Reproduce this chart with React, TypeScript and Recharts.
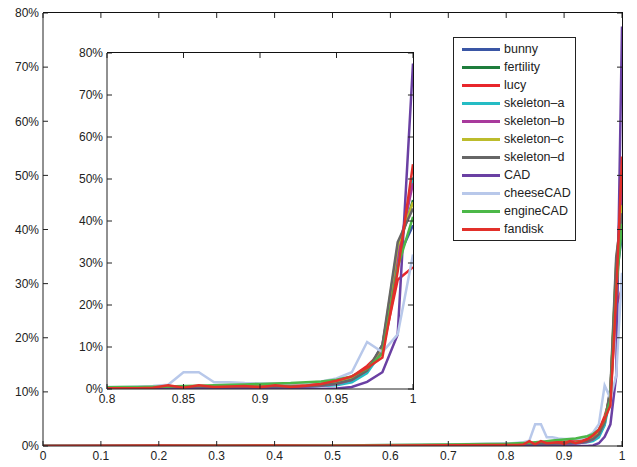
import React from 'react';
import { LineChart, Line, XAxis, YAxis, Legend, ReferenceLine } from 'recharts';

// x positions: coarse over the flat part, 0.01 steps from 0.8 on
const X = [0, 0.1, 0.2, 0.3, 0.4, 0.5, 0.6, 0.7,
  0.8, 0.81, 0.82, 0.83, 0.84, 0.85, 0.86, 0.87, 0.88, 0.89, 0.9,
  0.91, 0.92, 0.93, 0.94, 0.95, 0.96, 0.97, 0.98, 0.99, 1];

const bunny = [0, 0, 0, 0, 0, 0, 0.05, 0.1,
  0.2, 0.2, 0.2, 0.2, 0.25, 0.3, 0.3, 0.3, 0.35, 0.4, 0.4, 0.45, 0.5, 0.6, 0.8, 1.1, 2.0, 4.0, 10.5, 31, 39];
const fertility = [0, 0, 0, 0.05, 0.05, 0.1, 0.1, 0.2,
  0.3, 0.3, 0.3, 0.35, 0.4, 0.4, 0.45, 0.5, 0.55, 0.6, 0.7, 0.8, 0.9, 1.0, 1.2, 1.6, 2.6, 4.8, 9.5, 33, 45];
const lucy = [0, 0, 0.05, 0.05, 0.05, 0.1, 0.1, 0.2,
  0.3, 0.3, 0.35, 0.4, 0.4, 0.45, 0.5, 0.5, 0.6, 0.7, 0.8, 0.9, 1.0, 1.2, 1.4, 1.9, 2.9, 5.5, 9.0, 26, 29];
const skeletonA = [0, 0, 0, 0, 0, 0, 0, 0.05,
  0.1, 0.1, 0.1, 0.15, 0.2, 0.2, 0.2, 0.25, 0.3, 0.3, 0.35, 0.4, 0.5, 0.6, 0.7, 0.9, 1.6, 3.8, 9.0, 30, 50.5];
const skeletonB = [0, 0, 0, 0, 0, 0, 0, 0.05,
  0.1, 0.1, 0.15, 0.15, 0.2, 0.2, 0.25, 0.3, 0.3, 0.35, 0.4, 0.45, 0.5, 0.6, 0.8, 1.2, 2.2, 4.5, 9.5, 32, 49];
const skeletonC = [0, 0, 0, 0, 0, 0, 0.05, 0.1,
  0.2, 0.2, 0.25, 0.3, 0.3, 0.35, 0.4, 0.4, 0.45, 0.5, 0.55, 0.6, 0.7, 0.8, 1.0, 1.4, 2.4, 4.6, 10, 34, 44.5];
const skeletonD = [0, 0, 0, 0, 0, 0, 0.05, 0.1,
  0.2, 0.2, 0.2, 0.25, 0.3, 0.3, 0.35, 0.4, 0.4, 0.45, 0.5, 0.55, 0.6, 0.7, 0.9, 1.3, 2.2, 4.4, 10.5, 35, 43];
const cad = [0, 0, 0, 0, 0, 0, 0, 0,
  0, 0, 0, 0, 0, 0, 0, 0, 0, 0, 0, 0, 0, 0, 0, 0.1, 0.5, 1.7, 4.0, 13, 77.5];
const cheeseCad = [0, 0, 0, 0, 0.05, 0.1, 0.2, 0.3,
  0.5, 0.5, 0.6, 0.7, 1.0, 4.0, 4.0, 1.6, 1.6, 1.4, 1.3, 1.3, 1.3, 1.4, 1.8, 2.5, 4.0, 11.2, 8.8, 13, 32];
const engineCad = [0, 0, 0.05, 0.05, 0.1, 0.1, 0.2, 0.3,
  0.4, 0.45, 0.5, 0.55, 0.6, 0.7, 0.8, 0.9, 1.0, 1.1, 1.2, 1.3, 1.4, 1.6, 1.8, 2.2, 3.0, 4.8, 8.5, 29, 41];
const fandisk = [0, 0.05, 0.1, 0.05, 0.1, 0.05, 0.1, 0.15,
  0.2, 0.2, 0.2, 0.3, 0.9, 0.3, 0.9, 0.5, 0.6, 0.7, 0.4, 0.9, 0.5, 0.8, 1.2, 2.0, 3.0, 5.0, 7.5, 28, 53.5];

const SERIES = [
  { key: 'bunny', name: 'bunny', values: bunny, color: '#3a56a5' },
  { key: 'fertility', name: 'fertility', values: fertility, color: '#1e7d3c' },
  { key: 'lucy', name: 'lucy', values: lucy, color: '#e8262b' },
  { key: 'skeletonA', name: 'skeleton–a', values: skeletonA, color: '#25bcc4' },
  { key: 'skeletonB', name: 'skeleton–b', values: skeletonB, color: '#a83a9c' },
  { key: 'skeletonC', name: 'skeleton–c', values: skeletonC, color: '#bcbc2c' },
  { key: 'skeletonD', name: 'skeleton–d', values: skeletonD, color: '#666666' },
  { key: 'cad', name: 'CAD', values: cad, color: '#6a40a3' },
  { key: 'cheeseCad', name: 'cheeseCAD', values: cheeseCad, color: '#b8c8ea' },
  { key: 'engineCad', name: 'engineCAD', values: engineCad, color: '#4cb848' },
  { key: 'fandisk', name: 'fandisk', values: fandisk, color: '#e2302a' },
];

const MAIN_X_TICKS = [0, 0.1, 0.2, 0.3, 0.4, 0.5, 0.6, 0.7, 0.8, 0.9, 1];
const INSET_X_TICKS = [0.8, 0.85, 0.9, 0.95, 1];
const Y_TICKS = [0, 10, 20, 30, 40, 50, 60, 70, 80];

const rows = X.map((x, i) => {
  const r: any = { x };
  SERIES.forEach(s => { r[s.key] = s.values[i]; });
  return r;
});
const insetRows = rows.filter(r => r.x >= 0.8);

const FONT = '"Liberation Sans", Arial, Helvetica, sans-serif';
const tickStyle = { fontSize: 12, fill: '#222', fontFamily: FONT };
const fmtX = (v: number) => String(Number(v.toFixed(2)));
const fmtY = (v: number) => `${v}%`;
const order = (name: string) => SERIES.findIndex(s => s.name === name);

const renderLegend = (props: any) => {
  const items = (props.payload || []).filter((p: any) => order(p.value) >= 0)
    .sort((a: any, b: any) => order(a.value) - order(b.value));
  return (
    <div style={{ border: '1px solid #222', background: '#fff', padding: '2px 0', fontFamily: FONT, fontSize: 12.5, color: '#222' }}>
      {items.map((p: any) => (
        <div key={p.value} style={{ height: 18, display: 'flex', alignItems: 'center' }}>
          <span style={{ display: 'inline-block', width: 38, height: 3, background: p.color, marginLeft: 8, marginRight: 4 }} />
          <span>{p.value}</span>
        </div>
      ))}
    </div>
  );
};

// tx / ty: length of the inward top/right ticks, in data units (about 5px)
const Chart = ({ data, width, height, margin, ticks, domain, yWidth, tx, ty, children }: any) => (
  <LineChart width={width} height={height} data={data} margin={margin}>
    <XAxis dataKey="x" type="number" domain={domain} ticks={ticks} tickFormatter={fmtX}
      stroke="#222" tick={tickStyle} tickSize={-5} tickMargin={10} height={21} allowDataOverflow />
    <YAxis type="number" domain={[0, 80]} ticks={Y_TICKS} tickFormatter={fmtY} width={yWidth}
      stroke="#222" tick={tickStyle} tickSize={-5} tickMargin={9} allowDataOverflow />
    {SERIES.map(s => (
      <Line key={s.key} dataKey={s.key} name={s.name} stroke={s.color} strokeWidth={2.5}
        dot={false} type="linear" isAnimationActive={false} />
    ))}
    {ticks.map((t: number) => (
      <ReferenceLine key={'t' + t} segment={[{ x: t, y: 80 }, { x: t, y: 80 - ty }]} stroke="#222" ifOverflow="extendDomain" />
    ))}
    {Y_TICKS.map((t: number) => (
      <ReferenceLine key={'r' + t} segment={[{ x: domain[1], y: t }, { x: domain[1] - tx, y: t }]} stroke="#222" ifOverflow="extendDomain" />
    ))}
    {children}
  </LineChart>
);

// box edges of the plot areas (top and right sides)
const Frame = ({ left, top, width, height }: any) => (
  <div style={{ position: 'absolute', left, top, width, height, zIndex: 10, borderTop: '1px solid #111', borderRight: '1px solid #111', boxSizing: 'border-box', pointerEvents: 'none' }} />
);

export default function App() {
  return (
    <div style={{ position: 'absolute', left: 0, top: 0, width: 637, height: 467, background: '#fff' }}>
      <Chart data={rows} width={637} height={467} margin={{ top: 13, right: 15, bottom: 0, left: 0 }}
        ticks={MAIN_X_TICKS} domain={[0, 1]} yWidth={43} tx={0.0086} ty={0.92}>
        <Legend layout="vertical" align="center" verticalAlign="middle" content={renderLegend}
          wrapperStyle={{ left: 453, top: 37, width: 123 }} />
      </Chart>
      <div style={{ position: 'absolute', left: 60, top: 43, width: 360, height: 367, background: '#fff' }}>
        <Chart data={insetRows} width={360} height={367} margin={{ top: 10, right: 7, bottom: 0, left: 0 }}
          ticks={INSET_X_TICKS} domain={[0.8, 1]} yWidth={47} tx={0.0033} ty={1.19} />
        <Frame left={47} top={9} width={307} height={338} />
      </div>
      <Frame left={43} top={12} width={580} height={435} />
    </div>
  );
}
